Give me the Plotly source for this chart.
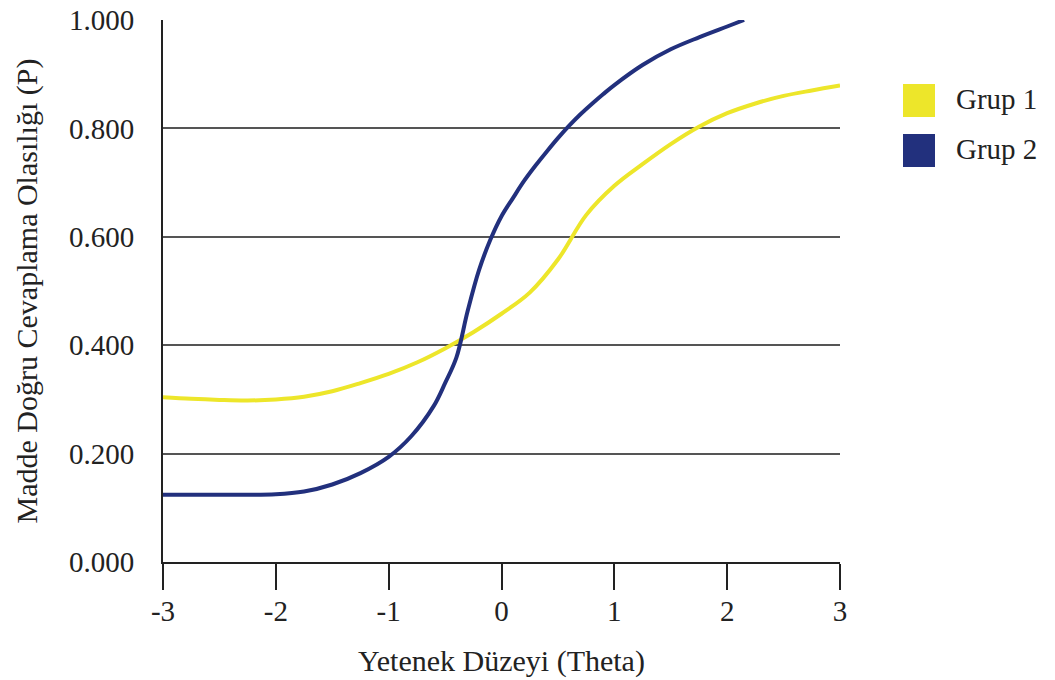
import plotly.graph_objects as go

# Ability levels (theta) and item response probabilities per group
theta_g1 = [-3.0, -2.75, -2.5, -2.25, -2.0, -1.75, -1.5, -1.25, -1.0, -0.75, -0.5, -0.25,
            0.0, 0.25, 0.5, 0.75, 1.0, 1.25, 1.5, 1.75, 2.0, 2.25, 2.5, 2.75, 3.0]
p_g1 = [0.304, 0.301, 0.299, 0.298, 0.300, 0.305, 0.315, 0.330, 0.347, 0.368, 0.394, 0.424,
        0.458, 0.497, 0.558, 0.640, 0.694, 0.734, 0.771, 0.803, 0.828, 0.846, 0.860, 0.870, 0.879]

theta_g2 = [-3.0, -2.5, -2.0, -1.75, -1.5, -1.25, -1.0, -0.8, -0.6, -0.5, -0.4, -0.3,
            -0.2, -0.1, 0.0, 0.1, 0.2, 0.3, 0.4, 0.5, 0.6, 0.7, 0.8, 0.9, 1.0, 1.25,
            1.5, 1.75, 2.0, 2.15]
p_g2 = [0.124, 0.124, 0.125, 0.130, 0.143, 0.164, 0.194, 0.232, 0.288, 0.330, 0.377, 0.463,
        0.538, 0.594, 0.638, 0.671, 0.703, 0.731, 0.757, 0.782, 0.805, 0.826, 0.845, 0.863,
        0.880, 0.917, 0.946, 0.968, 0.988, 1.000]

group_names = ["Grup 1", "Grup 2"]
group_colors = ["#EDE62A", "#22307D"]

y_ticks = [0.0, 0.2, 0.4, 0.6, 0.8, 1.0]
y_tick_text = ["0.000", "0.200", "0.400", "0.600", "0.800", "1.000"]
x_ticks = [-3, -2, -1, 0, 1, 2, 3]
x_tick_text = ["-3", "-2", "-1", "0", "1", "2", "3"]

FONT = "Liberation Serif"
INK = "#222"

fig = go.Figure()
for xs, ys, name, color in [(theta_g1, p_g1, group_names[0], group_colors[0]),
                            (theta_g2, p_g2, group_names[1], group_colors[1])]:
    fig.add_trace(go.Scatter(x=xs, y=ys, mode="lines", name=name,
                             line=dict(color=color, width=4, shape="spline", smoothing=1.0),
                             showlegend=False, cliponaxis=False))

# Legend drawn as square swatches with labels to the right of the plot
for i, (name, color) in enumerate(zip(group_names, group_colors)):
    y0 = 1 - (64 + i * 50) / 542
    fig.add_shape(type="rect", xref="paper", yref="paper",
                  x0=(903 - 163) / 677, x1=(935 - 163) / 677,
                  y0=y0 - 33 / 542, y1=y0, fillcolor=color, line=dict(width=0))
    fig.add_annotation(xref="paper", yref="paper", x=(954 - 163) / 677, y=y0 - 15 / 542,
                       text=name, showarrow=False, xanchor="left", yanchor="middle",
                       font=dict(family=FONT, size=29, color=INK))

fig.update_layout(
    width=1055, height=680,
    margin=dict(l=163, r=215, t=20, b=118),
    paper_bgcolor="white", plot_bgcolor="white",
    font=dict(family=FONT, size=28, color=INK),
    xaxis=dict(range=[-3, 3], tickvals=x_ticks, ticktext=x_tick_text, ticks="outside",
               ticklen=26, tickwidth=2, tickcolor=INK, showline=True, linecolor=INK,
               linewidth=2, showgrid=False, zeroline=False, automargin=False,
               tickfont=dict(size=29), ticklabelstandoff=-4,
               title=dict(text="Yetenek Düzeyi (Theta)", standoff=24,
                          font=dict(size=30))),
    yaxis=dict(range=[0, 1], tickvals=y_ticks, ticktext=y_tick_text, ticks="",
               ticklabelstandoff=21, automargin=False, tickfont=dict(size=29),
               showline=True, linecolor=INK, linewidth=2,
               showgrid=True, gridcolor="#555", gridwidth=1.5, zeroline=False,
               title=dict(text="Madde Doğru Cevaplama Olasılığı (P)", standoff=22,
                          font=dict(size=30))),
)

fig.write_html("out.html")
